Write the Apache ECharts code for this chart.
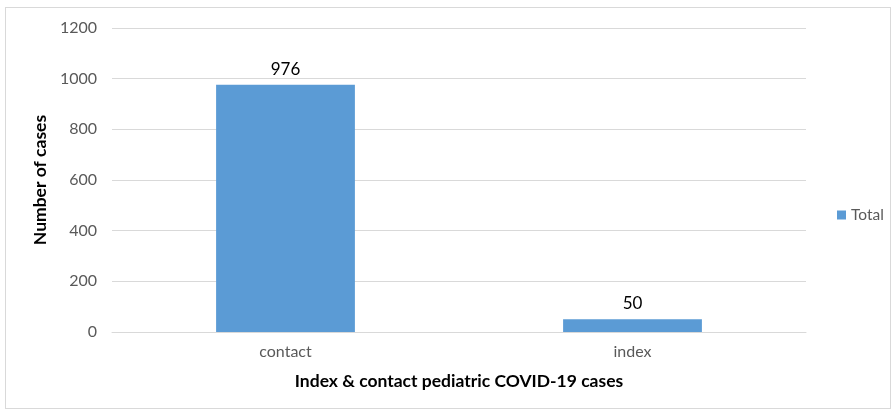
<!DOCTYPE html>
<html>
<head>
<meta charset="utf-8">
<script src="https://cdn.jsdelivr.net/npm/echarts@6/dist/echarts.min.js"></script>
<style>
html,body{margin:0;padding:0;background:#fff;}
#frame{position:absolute;left:5px;top:7px;width:886px;height:402px;border:1px solid #d9d9d9;box-sizing:border-box;}
#chart{width:893px;height:416px;position:absolute;left:0;top:0;}
</style>
</head>
<body>
<div id="frame"></div>
<div id="chart"></div>
<script>
var categories = ['contact', 'index'];
var totals = [976, 50];
var yTicks = [0, 200, 400, 600, 800, 1000, 1200];

var FONT = 'Lato, sans-serif';
var chart = echarts.init(document.getElementById('chart'));
chart.setOption({
  animation: false,
  textStyle: {fontFamily: FONT},
  legend: {
    data: ['Total'],
    orient: 'vertical',
    left: 832, top: 202,
    itemWidth: 9, itemHeight: 9,
    icon: 'rect',
    itemGap: 4,
    textStyle: {color: '#595959', fontSize: 15.5, fontFamily: FONT}
  },
  grid: {left: 112, right: 87, top: 28, bottom: 84, containLabel: false, outerBoundsMode: 'none'},
  xAxis: {
    type: 'category',
    data: categories,
    name: 'Index & contact pediatric COVID-19 cases',
    nameLocation: 'middle',
    nameGap: 40,
    nameTextStyle: {fontWeight: 'bold', fontSize: 17.5, color: '#000', fontFamily: FONT},
    axisLine: {lineStyle: {color: '#d9d9d9'}},
    axisTick: {show: false},
    axisLabel: {color: '#595959', fontSize: 16, margin: 12}
  },
  yAxis: {
    type: 'value',
    min: yTicks[0], max: yTicks[yTicks.length - 1], interval: 200,
    name: 'Number of cases',
    nameLocation: 'middle',
    nameGap: 55,
    nameTextStyle: {fontWeight: 'bold', fontSize: 17.5, color: '#000', fontFamily: FONT},
    axisLine: {show: false},
    axisTick: {show: false},
    axisLabel: {color: '#595959', fontSize: 16, margin: 15, formatter: function (v) { return String(v); }},
    splitLine: {lineStyle: {color: '#d9d9d9'}}
  },
  series: [{
    name: 'Total',
    type: 'bar',
    data: totals,
    barWidth: '40%',
    itemStyle: {color: '#5B9BD5'},
    label: {show: true, position: 'top', color: '#000', fontSize: 17, distance: 7}
  }]
});
</script>
</body>
</html>
